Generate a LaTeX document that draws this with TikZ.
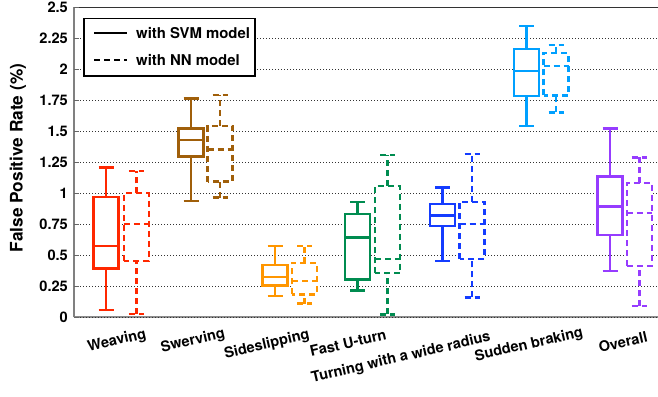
\documentclass[tikz,border=0pt]{standalone}
\usepackage{fontspec}
\setmainfont{TeX Gyre Heros}
\definecolor{cred}{RGB}{255,40,0}
\definecolor{cbrown}{RGB}{160,95,10}
\definecolor{corange}{RGB}{255,150,0}
\definecolor{cgreen}{RGB}{0,140,80}
\definecolor{cblue}{RGB}{20,60,255}
\definecolor{clblue}{RGB}{0,160,255}
\definecolor{cpurple}{RGB}{150,60,255}
\newcommand\bxp[7]{%
  \draw[#7] (#1-7.5,#2) -- (#1+7.5,#2);
  \draw[#7] (#1,#2) -- (#1,#3);
  \draw[#7,fill=white] (#1-12.5,#3) rectangle (#1+12.5,#5);
  \draw[#7] (#1-12.5,#4) -- (#1+12.5,#4);
  \draw[#7] (#1,#5) -- (#1,#6);
  \draw[#7] (#1-7.5,#6) -- (#1+7.5,#6);
}
\tikzset{
  svm/.style={line width=2.4pt,draw=#1},
  nn/.style={line width=2.4pt,draw=#1,dash pattern=on 6pt off 4pt},
  grid line/.style={line width=0.9pt,black!80,dash pattern=on 1pt off 2pt},
  ticklbl/.style={anchor=east,font=\bfseries\fontsize{14.6}{16}\selectfont,inner sep=0pt},
  catlbl/.style={rotate=13,font=\bfseries\fontsize{14.6}{16}\selectfont,inner sep=0pt},
  leglbl/.style={anchor=west,font=\bfseries\fontsize{14.9}{16}\selectfont,inner sep=0pt},
}
\begin{document}
\begin{tikzpicture}[x=1pt,y=1pt]
\useasboundingbox[fill=white] (0,0) rectangle (658,396);
\begin{scope}[shift={(0,78.7)},y=124pt]
  % grid
  \foreach \v in {0.25,0.5,...,2.25} \draw[grid line] (74,\v) -- (658,\v);
  \draw[line width=2pt,black!45] (74,0) -- (658,0);
  \draw[grid line] (74,0) -- (658,0);
  \draw[line width=1.3pt,black!80] (74,2.5) -- (658,2.5);
  \draw[line width=1.5pt,black!50] (74,0) -- (74,2.5);
  \foreach \v/\t in {0/0,0.25/0.25,0.5/0.5,0.75/0.75,1/1,1.25/1.25,1.5/1.5,1.75/1.75,2/2,2.25/2.25,2.5/2.5}{
    \draw[line width=1pt,black!60] (74,\v) -- (79,\v);
    \node[ticklbl] (t\v) at (68,\v) {\t};
  }
  % boxes
  \bxp{106}{0.059}{0.395}{0.577}{0.97}{1.207}{svm=cred}
  \bxp{136.3}{0.027}{0.454}{0.752}{1.0}{1.18}{nn=cred}
  \bxp{191}{0.94}{1.298}{1.432}{1.521}{1.766}{svm=cbrown}
  \bxp{220}{0.965}{1.094}{1.352}{1.543}{1.793}{nn=cbrown}
  \bxp{275}{0.172}{0.255}{0.327}{0.422}{0.577}{svm=corange}
  \bxp{304.5}{0.11}{0.185}{0.293}{0.44}{0.577}{nn=corange}
  \bxp{357.5}{0.215}{0.306}{0.645}{0.833}{0.932}{svm=cgreen}
  \bxp{387.5}{0.024}{0.355}{0.468}{1.059}{1.309}{nn=cgreen}
  \bxp{442.5}{0.454}{0.736}{0.82}{0.914}{1.048}{svm=cblue}
  \bxp{472}{0.161}{0.47}{0.752}{0.932}{1.315}{nn=cblue}
  \bxp{526.5}{1.545}{1.785}{1.986}{2.164}{2.349}{svm=clblue}
  \bxp{556}{1.653}{1.79}{2.027}{2.129}{2.196}{nn=clblue}
  \bxp{610}{0.373}{0.664}{0.892}{1.134}{1.524}{svm=cpurple}
  \bxp{639.3}{0.089}{0.416}{0.839}{1.085}{1.29}{nn=cpurple}
\end{scope}
% legend
\draw[line width=1.2pt,fill=white] (84,377.7) rectangle (255,320);
\coordinate (l1a) at (94,362.7); \coordinate (l1b) at (127,362.7);
\coordinate (l2a) at (94,336); \coordinate (l2b) at (127,336);
\draw[line width=2pt] (l1a) -- (l1b);
\draw[line width=2pt,dash pattern=on 6pt off 4pt] (l2a) -- (l2b);
\node[leglbl] (lg1) at (136,362.7) {with SVM model};
\node[leglbl] (lg2) at (136,336) {with NN model};
% axis label
\node[rotate=90,font=\bfseries\fontsize{17.3}{19}\selectfont,inner sep=0pt] (ylab) at (18,238) {False Positive Rate (\%)};
% category labels
\node[catlbl] (c1) at (117,55) {Weaving};
\node[catlbl] (c2) at (193,55) {Swerving};
\node[catlbl] (c3) at (267,51) {Sideslipping};
\node[catlbl] (c4) at (348,53) {Fast U-turn};
\node[catlbl] (c5) at (401,38) {Turning with a wide radius};
\node[catlbl] (c6) at (529,51) {Sudden braking};
\node[catlbl] (c7) at (623,54) {Overall};
\end{tikzpicture}
\end{document}
